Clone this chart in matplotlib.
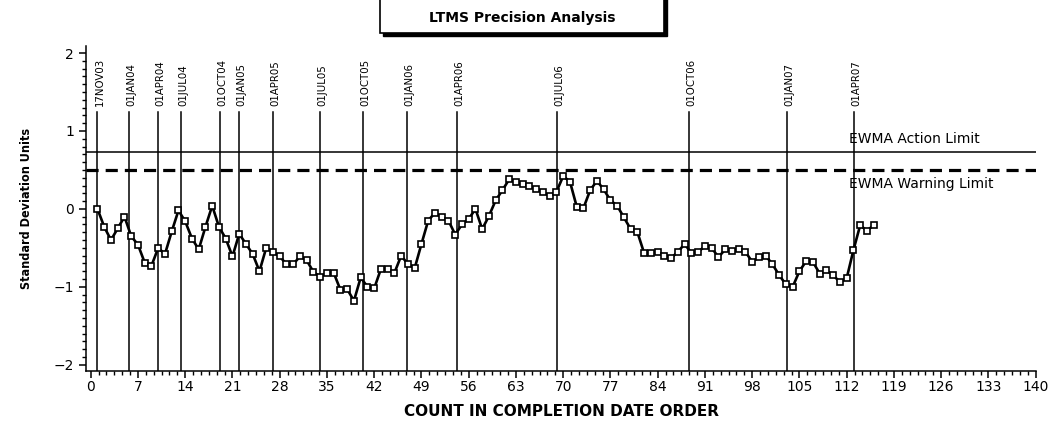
import matplotlib
matplotlib.use('Agg')
import matplotlib.pyplot as plt
from matplotlib.patches import Rectangle
from matplotlib.ticker import MultipleLocator

# EWMA values, one per test, in completion order
ewma = [0.00, -0.23, -0.40, -0.25, -0.10, -0.35, -0.46, -0.69, -0.73, -0.50,
        -0.58, -0.29, -0.02, -0.16, -0.38, -0.52, -0.23, 0.04, -0.23, -0.38,
        -0.61, -0.32, -0.45, -0.58, -0.80, -0.50, -0.55, -0.61, -0.71, -0.71,
        -0.61, -0.66, -0.81, -0.87, -0.82, -0.82, -1.04, -1.03, -1.18, -0.88,
        -1.00, -1.02, -0.77, -0.77, -0.82, -0.60, -0.71, -0.76, -0.45, -0.15,
        -0.05, -0.11, -0.15, -0.33, -0.20, -0.13, 0.00, -0.26, -0.09, 0.11,
        0.24, 0.38, 0.34, 0.32, 0.29, 0.26, 0.22, 0.16, 0.22, 0.42,
        0.35, 0.03, 0.01, 0.24, 0.36, 0.25, 0.11, 0.04, -0.11, -0.26,
        -0.30, -0.57, -0.56, -0.55, -0.60, -0.63, -0.55, -0.45, -0.57, -0.55,
        -0.48, -0.50, -0.62, -0.52, -0.54, -0.52, -0.55, -0.68, -0.62, -0.60,
        -0.71, -0.85, -0.97, -1.00, -0.80, -0.67, -0.68, -0.83, -0.79, -0.85,
        -0.94, -0.89, -0.53, -0.21, -0.28, -0.21]
count = list(range(1, len(ewma) + 1))

# date reference lines
ref_x = [1, 5.7, 10, 13.4, 19.1, 21.9, 27, 34, 40.4, 46.9, 54.3, 69.1, 88.6, 103.1, 113.1]
ref_lab = ['17NOV03', '01JAN04', '01APR04', '01JUL04', '01OCT04', '01JAN05', '01APR05',
           '01JUL05', '01OCT05', '01JAN06', '01APR06', '01JUL06', '01OCT06', '01JAN07',
           '01APR07']

action_limit = 0.735
warning_limit = 0.50

fig = plt.figure(figsize=(10.6, 4.23), dpi=100)
ax = fig.add_axes([86/1060, 52/423, 950/1060, 325/423])

narrow = ['Liberation Sans Narrow', 'DejaVu Sans']

for xv, lab in zip(ref_x, ref_lab):
    ax.plot([xv, xv], [-2.1, 1.24], color='black', lw=1.1, zorder=1)
    ax.text(xv + 0.35, 1.32, lab, rotation=90, ha='center', va='bottom',
            fontsize=8.2, family=narrow, fontstretch='condensed')

ax.axhline(action_limit, color='black', lw=1.1, zorder=1)
ax.axhline(warning_limit, color='black', lw=2.3, ls=(0, (3.8, 2.2)), zorder=1)
ax.text(112.3, action_limit + 0.07, 'EWMA Action Limit', fontsize=10, va='bottom', ha='left')
ax.text(112.3, warning_limit - 0.09, 'EWMA Warning Limit', fontsize=10, va='top', ha='left')

ax.plot(count, ewma, color='black', lw=1.9, marker='s', ms=5, mfc='white',
        mec='black', mew=1.2, zorder=3)

ax.set_xlim(-0.7, 140.05)
ax.set_ylim(-2.08, 2.09)
ax.spines['top'].set_visible(False)
ax.spines['right'].set_visible(False)
ax.spines['left'].set_linewidth(1.1)
ax.spines['bottom'].set_linewidth(1.1)

ax.xaxis.set_major_locator(MultipleLocator(7))
ax.xaxis.set_minor_locator(MultipleLocator(7/6))
ax.yaxis.set_major_locator(MultipleLocator(1))
ax.yaxis.set_minor_locator(MultipleLocator(0.1))
ax.tick_params(axis='both', which='major', direction='out', length=5, width=1.1, labelsize=10)
ax.tick_params(axis='both', which='minor', direction='out', length=3, width=1.0)
ax.tick_params(axis='x', pad=1.5)

ax.set_xlabel('COUNT IN COMPLETION DATE ORDER', fontsize=11, fontweight='bold', labelpad=7)
ax.set_ylabel('Standard Deviation Units', fontsize=9, fontweight='bold', family=narrow,
              fontstretch='condensed', labelpad=15)

# title box with drop shadow
bx, by, bw, bh = 380/1060, 390/423, 284/1060, 40/423
fig.patches.append(Rectangle((bx + 3/1060, by - 3/423), bw, bh, transform=fig.transFigure,
                             facecolor='black', edgecolor='black', lw=1))
fig.patches.append(Rectangle((bx, by), bw, bh, transform=fig.transFigure,
                             facecolor='white', edgecolor='black', lw=1.2))
fig.text(bx + bw/2, 405/423, 'LTMS Precision Analysis', ha='center', va='center',
         fontsize=10, fontweight='bold')

fig.savefig('out.png', dpi=100)
